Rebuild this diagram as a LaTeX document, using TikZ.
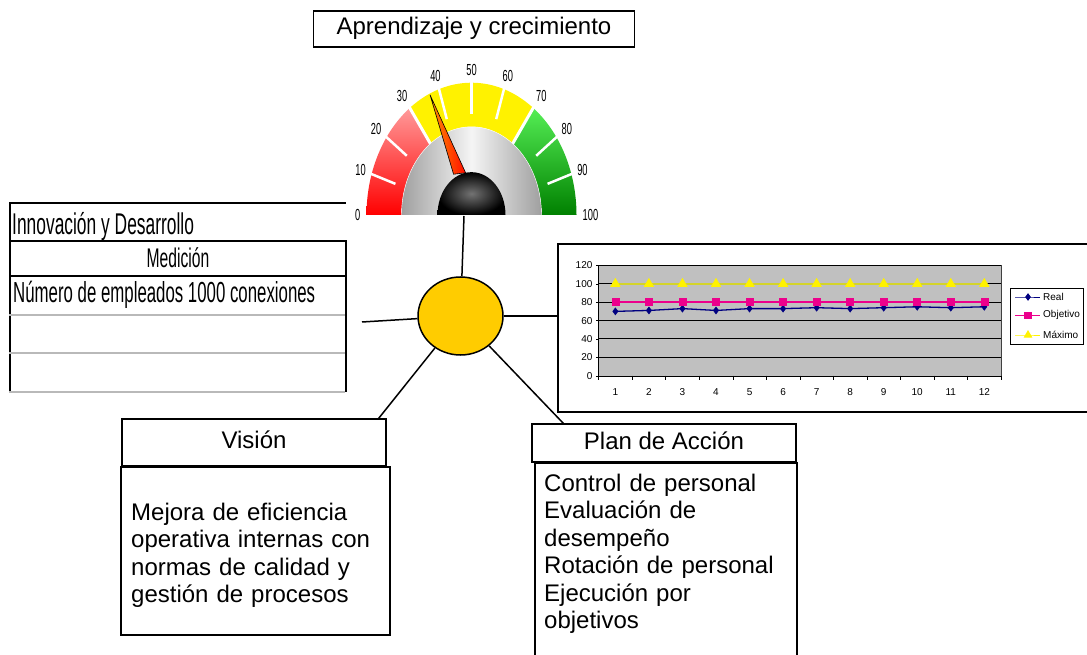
\documentclass[tikz,border=0pt]{standalone}
\usepackage{fontspec}
\setmainfont{Liberation Sans}
\newfontfamily\narrowfont[FakeStretch=0.58]{Liberation Sans}
\usepackage{tikz}
\usetikzlibrary{calc,positioning,shapes.geometric,plotmarks}
\definecolor{gold}{HTML}{FFCC00}
\definecolor{navyblue}{HTML}{000080}
\definecolor{plotgray}{HTML}{C0C0C0}
\definecolor{dialred}{HTML}{FF0000}
\definecolor{dialpink}{HTML}{FF9A9A}
\definecolor{dialgreen}{HTML}{008000}
\definecolor{dialmint}{HTML}{55EE55}
\definecolor{maxline}{HTML}{D4D42A}
\tikzset{
  box/.style={draw,line width=1.5pt,inner sep=0pt},
  wire/.style={line width=1.5pt},
  tabtext/.style={font=\narrowfont\fontsize{29}{32}\selectfont,inner sep=0pt},
  bodytext/.style={align=left,inner sep=0pt},
  dial/.style={font=\narrowfont\fontsize{16}{18}\selectfont,inner sep=1pt},
  tiny/.style={font=\fontsize{10}{12}\selectfont,inner sep=1pt},
  grid line/.style={black,line width=1pt},
  every node/.style={font=\fontsize{24}{27.5}\selectfont}
}

\begin{document}
\begin{tikzpicture}[x=1pt,y=-1pt]
\useasboundingbox (0,0) rectangle (1087,655);
\clip (0,0) rectangle (1087,655);

\node[box,minimum width=321,minimum height=36,text height=17,text depth=5] (title) at (474,29) {Aprendizaje y crecimiento};

% gauge
\begin{scope}[shift={(471.5,215)},y=1.26pt]
  \shade[top color=dialpink,bottom color=dialred] (180:105) arc[start angle=180,end angle=126,radius=105]
    -- (126:70) arc[start angle=126,end angle=180,radius=70] -- cycle;
  \fill[yellow] (126:105) arc[start angle=126,end angle=54,radius=105]
    -- (54:70) arc[start angle=54,end angle=126,radius=70] -- cycle;
  \shade[top color=dialmint,bottom color=dialgreen] (54:105) arc[start angle=54,end angle=0,radius=105]
    -- (0:70) arc[start angle=0,end angle=54,radius=70] -- cycle;
  \foreach \a in {126,54} \draw[white,line width=3pt] (\a:68) -- (\a:108);
  \foreach \v in {10,20,40,50,60,80,90} \draw[white,line width=2.5pt] ({180-1.8*\v}:80) -- ({180-1.8*\v}:108);
  \shade[left color=gray!75,right color=gray!75,middle color=gray!8] (0:70) arc[start angle=0,end angle=180,radius=70] -- cycle;
  \draw[white,thin] (0:70) arc[start angle=0,end angle=180,radius=70];
  \shadedraw[left color=orange!85!yellow,right color=red!90!orange,draw=black,line width=0.6pt] (113.5:104) -- (100:34) -- (119:37) -- cycle;
  \shade[inner color=black!55,outer color=black] (0:34) arc[start angle=0,end angle=180,radius=34] -- cycle;
  \foreach \v [evaluate=\v as \a using 180-1.8*\v, evaluate=\v as \b using int(360-1.8*\v)] in {0,10,...,100}
    \node[dial,anchor=\b] (dial\v) at (\a:110) {\v};
\end{scope}
\coordinate (dialfoot) at (464,216);

% table
\draw[line width=1.5pt] (10,392) -- (10,203) -- (346,203);
\node[box,minimum width=336,minimum height=35,font=\narrowfont\fontsize{27}{30}\selectfont,text height=19,text depth=0] (medicion) at (178,258.5) {Medición};
\draw[line width=1.5pt] (346,276) -- (346,392);
\foreach \y in {315,353,392} \draw[gray!55,line width=1.5pt] (9,\y) -- (345,\y);
\node[tabtext,font=\narrowfont\fontsize{30}{32}\selectfont,anchor=base west] (innovacion) at (12,234) {Innovación y Desarrollo};
\node[tabtext,anchor=base west] (empleados) at (13,302) {Número de empleados 1000 conexiones};
\coordinate (tablend) at (362,322);

% chart
\draw[line width=1.2pt] (1090,244) -- (558,244) -- (558,412) -- (1090,412);
\coordinate (chartin) at (558,316);
\begin{scope}[shift={(598.6,375.7)},x=33.54pt,y=0.919pt]
  \fill[plotgray] (0,0) rectangle (12,120);
  \foreach \g in {20,40,...,120} \draw[grid line] (0,\g) -- (12,\g);
  \draw[gray!50!black] (12,0) -- (12,120);
  \draw (0,0) -- (0,120) (0,0) -- (12,0);
  \foreach \g in {0,20,...,120} {
    \draw (0,\g) -- ++(-3pt,0);
    \node[tiny,anchor=east] (ylab\g) at (-0.15,\g) {\g};
  }
  \foreach \i in {0,...,12} \draw (\i,0) -- ++(0,-4pt);
  \foreach \i in {1,...,12} \node[tiny] (xlab\i) at (\i-0.5,-18) {\i};
  \draw[navyblue,line width=1.3pt,mark=diamond*,mark size=3.5pt,mark options={line width=0.5pt}]
    plot coordinates {(0.5,70) (1.5,71) (2.5,73) (3.5,71) (4.5,73) (5.5,73) (6.5,74) (7.5,73) (8.5,74) (9.5,75) (10.5,74) (11.5,75)};
  \draw[magenta,line width=2.5pt,mark=square*,mark size=3.5pt,mark options={line width=0.5pt}]
    plot[samples at={0.5,1.5,...,11.5}] (\x,80);
  \draw[maxline,line width=1.5pt,mark=triangle*,mark size=4.5pt,mark options={yellow,fill=yellow}]
    plot[samples at={0.5,1.5,...,11.5}] (\x,100);
\end{scope}
\node[draw,line width=0.8pt,minimum width=73,minimum height=56,anchor=north west] (legend) at (1010,287.5) {};
\draw[navyblue,line width=1pt,mark=diamond*,mark size=3pt,mark indices={2}] plot coordinates {(1015,297) (1028,297) (1040,297)};
\draw[magenta,line width=1.5pt,mark=square*,mark size=3pt,mark indices={2}] plot coordinates {(1015,315.3) (1028,315.3) (1040,315.3)};
\draw[yellow,line width=1pt,mark=triangle*,mark size=4pt,mark indices={2}] plot coordinates {(1015,335) (1028,335) (1040,335)};
\node[tiny,anchor=west] (legreal) at (1042,297) {Real};
\node[tiny,anchor=west] (legobj) at (1042,315.3) {Objetivo};
\node[tiny,anchor=west] (legmax) at (1042,335) {Máximo};

% vision and action plan
\node[box,minimum width=264,minimum height=47,text height=17,text depth=5] (vishead) at (254,442.5) {Visión};
\node[box,minimum width=269,minimum height=168,anchor=north west] (visbody) at (120,466) {};
\node[bodytext,text width=250,anchor=base west] (vistext) at (131,520)
  {Mejora de eficiencia\\operativa internas con\\normas de calidad y\\gestión de procesos};
\node[box,minimum width=264,minimum height=38,text height=17,text depth=5] (planhead) at (664,443) {Plan de Acción};
\node[box,minimum width=262,minimum height=220,anchor=north west] (planbody) at (534,462) {};
\node[bodytext,text width=250,anchor=base west] (plantext) at (544,491)
  {Control de personal\\Evaluación de\\desempeño\\Rotación de personal\\Ejecución por\\objetivos};

% hub and spokes
\node[ellipse,draw,line width=1.5pt,fill=gold,minimum width=85,minimum height=78] (core) at (460.5,316) {};
\draw[wire] (core) -- (dialfoot);
\draw[wire] (core) -- (tablend);
\draw[wire] (core) -- (chartin);
\draw[wire] (core) -- ([xshift=-8pt]vishead.north east);
\draw[wire] (core) -- ([xshift=32pt]planhead.north west);
\end{tikzpicture}
\end{document}
